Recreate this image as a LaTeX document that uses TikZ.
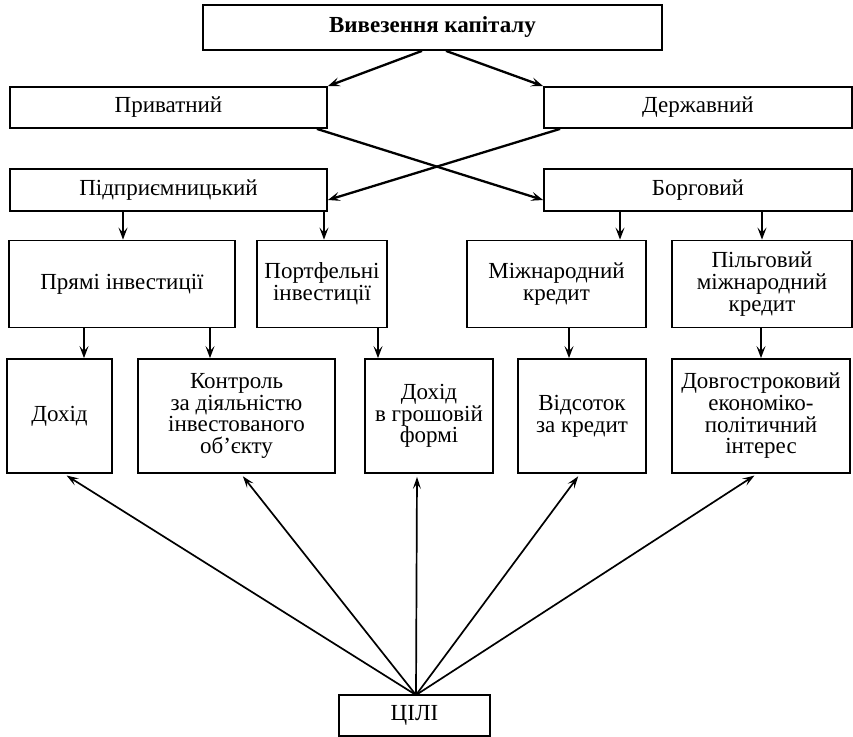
\documentclass[tikz,border=0pt]{standalone}
\usepackage{fontspec}
\setmainfont{Liberation Serif}
\usetikzlibrary{arrows.meta}
\begin{document}
\begin{tikzpicture}[x=1bp,y=-1bp,
  box/.style={draw, line width=1.8bp, inner sep=0pt, align=center,
    font=\fontsize{23bp}{21.7bp}\selectfont},
  arr/.style={line width=2.3bp, -{Stealth[length=12bp,width=9bp,inset=5bp]}},
  arrthin/.style={line width=1.7bp, -{Stealth[length=12bp,width=8bp,inset=5bp]}, shorten >=3bp}]
\useasboundingbox (0,0) rectangle (853,737);
% row 0
\node[box, minimum width=459bp, minimum height=45bp] (top) at (432.5,27.5) {\textbf{Вивезення капіталу}};
% row 1
\node[box, minimum width=317bp, minimum height=41bp] (priv) at (168.5,107.5) {Приватний};
\node[box, minimum width=308bp, minimum height=41bp] (derzh) at (698,107.5) {Державний};
% row 2
\node[box, minimum width=317bp, minimum height=42bp] (pidpr) at (168.5,190) {Підприємницький};
\node[box, minimum width=308bp, minimum height=42bp] (borg) at (698,190) {Борговий};
% row 3
\node[box, minimum width=226bp, minimum height=87bp] (pryami) at (122,284) {Прямі інвестиції};
\node[box, minimum width=130bp, minimum height=87bp] (portf) at (322,284) {Портфельні\\інвестиції};
\node[box, minimum width=179bp, minimum height=87bp] (mizhn) at (556.5,284) {Міжнародний\\кредит};
\node[box, minimum width=180bp, minimum height=87bp] (pilg) at (762,284) {Пільговий\\міжнародний\\кредит};
% row 4
\node[box, minimum width=105bp, minimum height=114bp] (dokhid) at (59.5,416) {Дохід};
\node[box, minimum width=197bp, minimum height=114bp] (kontr) at (236.5,416) {Контроль\\за діяльністю\\інвестованого\\об’єкту};
\node[box, minimum width=128bp, minimum height=114bp] (groshi) at (429,416) {Дохід\\в грошовій\\формі};
\node[box, minimum width=128bp, minimum height=114bp] (vids) at (582,416) {Відсоток\\за кредит};
\node[box, minimum width=178bp, minimum height=114bp] (dovg) at (761,416) {Довгостроковий\\економіко-\\політичний\\інтерес};
% bottom
\node[box, minimum width=151bp, minimum height=41bp] (tsili) at (414.5,715.5) {ЦІЛІ};

% helper x positions
\coordinate (xa) at (123,0);
\coordinate (xb) at (324,0);
\coordinate (xc) at (620,0);
\coordinate (xd) at (762,0);
\coordinate (xe) at (84,0);
\coordinate (xf) at (210,0);
\coordinate (xg) at (378,0);
\coordinate (xh) at (569,0);
\coordinate (xi) at (761,0);
\coordinate (g1) at (64,0);
\coordinate (g2) at (241,0);
\coordinate (g3) at (417,0);
\coordinate (g4) at (580,0);
\coordinate (g5) at (757,0);
\coordinate (apex) at (416,695);

% top to row 1
\draw[arr] ([xshift=-10.5bp]top.south) -- (priv.north east);
\draw[arr] ([xshift=13.5bp]top.south) -- (derzh.north west);
% crossing
\draw[arr] ([xshift=-11bp]priv.south east) -- ([yshift=-10bp]borg.west);
\draw[arr] ([xshift=17bp]derzh.south west) -- ([yshift=-10bp]pidpr.east);
% row 2 to row 3
\draw[arr] (pidpr.south -| xa) -- (pryami.north -| xa);
\draw[arr] (pidpr.south -| xb) -- (portf.north -| xb);
\draw[arr] (borg.south -| xc) -- (mizhn.north -| xc);
\draw[arr] (borg.south -| xd) -- (pilg.north -| xd);
% row 3 to row 4
\draw[arr] (pryami.south -| xe) -- (dokhid.north -| xe);
\draw[arr] (pryami.south -| xf) -- (kontr.north -| xf);
\draw[arr] (portf.south -| xg) -- (groshi.north -| xg);
\draw[arr] (mizhn.south -| xh) -- (vids.north -| xh);
\draw[arr] (pilg.south -| xi) -- (dovg.north -| xi);
% goals
\draw[arrthin] (apex) -- (dokhid.south -| g1);
\draw[arrthin] (apex) -- (kontr.south -| g2);
\draw[arrthin] (apex) -- (groshi.south -| g3);
\draw[arrthin] (apex) -- (vids.south -| g4);
\draw[arrthin] (apex) -- (dovg.south -| g5);
\end{tikzpicture}
\end{document}
